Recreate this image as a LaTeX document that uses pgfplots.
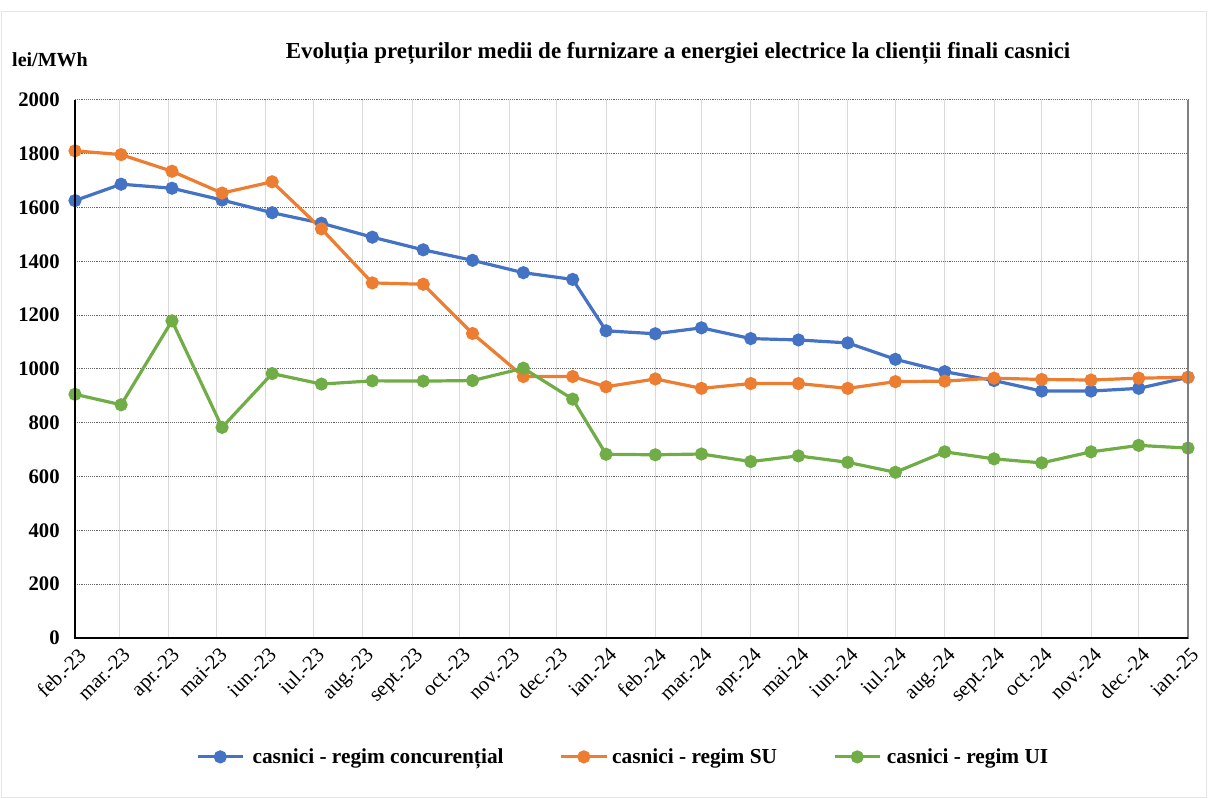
\documentclass[border=0pt]{standalone}
\usepackage{fontspec}
\setmainfont{Liberation Serif}
\usepackage{pgfplots}
\usepackage{pgfplotstable}
\pgfplotsset{compat=1.18}
\definecolor{cblue}{HTML}{4472C4}
\definecolor{corange}{HTML}{ED7D31}
\definecolor{cgreen}{HTML}{70AD47}

% x = days since 1 feb 2023 (date axis), values in lei/MWh
\pgfplotstableread{
x     conc  su    ui
0     1626  1811  906
29    1687  1797  867
61    1672  1735  1179
92.5  1628  1654  783
124   1581  1696  983
155   1542  1521  944
187   1490  1320  956
219   1443  1315  955
250   1404  1132  957
282   1358  972   1003
313   1333  972   888
334   1142  934   683
365   1131  963   681
394   1153  928   684
425   1113  946   656
455   1108  946   677
486   1097  928   653
516   1036  953   616
547   990   955   692
578   957   966   666
608   918   961   651
639   918   959   692
669   928   966   716
700   969   969   706
}\prices

\begin{document}
\begin{tikzpicture}
\path[use as bounding box] (0,0) rectangle (906pt,597.75pt);
\draw[gray!20,line width=0.75pt] (0.75pt,0) rectangle (904.5pt,588.75pt);
\node[font=\bfseries\fontsize{17.2}{19}\selectfont] at (508.5pt,558pt)
  {Evoluția prețurilor medii de furnizare a energiei electrice la clienții finali casnici};
\node[font=\bfseries\fontsize{15}{17}\selectfont] at (37.5pt,552.75pt) {lei/MWh};
\begin{axis}[
  at={(56.25pt,119.25pt)}, anchor=south west,
  scale only axis, width=834.75pt, height=403.5pt,
  xmin=0, xmax=700, ymin=0, ymax=2000,
  ytick={0,200,...,2000},
  xtick={0,28,59,89,120,150,181,212,242,273,303,334,365,394,425,455,486,516,547,578,608,639,669,700},
  xticklabels={feb.-23,mar.-23,apr.-23,mai-23,iun.-23,iul.-23,aug.-23,sept.-23,oct.-23,nov.-23,dec.-23,ian.-24,
    feb.-24,mar.-24,apr.-24,mai-24,iun.-24,iul.-24,aug.-24,sept.-24,oct.-24,nov.-24,dec.-24,ian.-25},
  xticklabel style={rotate=45, anchor=north east, font=\fontsize{15.5}{17}\selectfont, yshift=-2pt},
  yticklabel style={font=\bfseries\fontsize{15.5}{17}\selectfont, xshift=-8pt},
  /pgf/number format/assume math mode=true,
  /pgf/number format/1000 sep={},
  major tick length=0pt,
  xmajorgrids, ymajorgrids,
  x grid style={gray!30, line width=0.75pt},
  y grid style={densely dotted, gray!80!black, line width=0.75pt},
  axis line style={draw=none},
  after end axis/.code={
    \draw[gray, line width=1pt] (rel axis cs:1,0)--(rel axis cs:1,1);
    \draw[black, line width=1pt] (rel axis cs:0,1)--(rel axis cs:0,0)--(rel axis cs:1,0);
  },
  legend style={at={(0.4928,-0.221)}, anchor=center, draw=none, fill=none,
    font=\bfseries\fontsize{16}{18}\selectfont,
    /tikz/every even column/.append style={column sep=40pt}},
  legend columns=3,
  legend cell align=left,
  legend image code/.code={
    \draw[mark repeat=2,mark phase=2] plot coordinates {(0pt,0pt)(17pt,0pt)(34pt,0pt)};},
  every axis plot/.append style={line width=2.4pt, mark=*, mark size=3.7pt, mark options={solid}},
]
\addplot[cblue] table[x=x,y=conc] {\prices};
\addlegendentry{\hspace{4pt}casnici - regim concurențial}
\addplot[corange] table[x=x,y=su] {\prices};
\addlegendentry{\hspace{1pt}casnici - regim SU}
\addplot[cgreen] table[x=x,y=ui] {\prices};
\addlegendentry{\hspace{2pt}casnici - regim UI}
\end{axis}
\end{tikzpicture}
\end{document}
